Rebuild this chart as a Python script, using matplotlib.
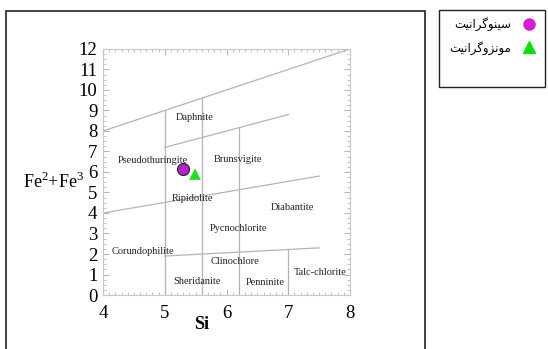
import matplotlib
matplotlib.use('Agg')
import matplotlib.pyplot as plt
from matplotlib.patches import Rectangle
from matplotlib.lines import Line2D

plt.rcParams['font.family'] = ['Liberation Serif', 'DejaVu Serif']
plt.rcParams['mathtext.fontset'] = 'custom'
plt.rcParams['mathtext.rm'] = 'Liberation Serif'

# field boundaries (Si, Fe2+Fe3)
boundaries = [
    ([4, 8], [8, 12]),
    ([5, 7], [7.2, 8.8]),
    ([4, 7.5], [4, 5.8]),
    ([5, 7.5], [1.9, 2.3]),
    ([5, 5], [0, 9]),
    ([5.6, 5.6], [0, 9.6]),
    ([6.2, 6.2], [0, 8.16]),
    ([7, 7], [0, 2.22]),
]

field_names = ['Daphnite', 'Pseudothuringite', 'Brunsvigite', 'Ripidolite',
               'Diabantite', 'Pycnochlorite', 'Corundophilite', 'Clinochlore',
               'Talc-chlorite', 'Sheridanite', 'Penninite']
field_x = [5.49, 4.8, 6.18, 5.45, 7.07, 6.19, 4.64, 6.14, 7.52, 5.53, 6.63]
field_y = [8.67, 6.54, 6.63, 4.73, 4.28, 3.22, 2.11, 1.62, 1.12, 0.65, 0.62]

# samples
syeno_si, syeno_fe = [5.29], [6.15]
monzo_si, monzo_fe = [5.49], [5.9]

# Persian legend labels (pre-shaped presentation forms, visual order)
syeno_label = '\ufe96\ufbff\ufee7\ufe8d\ufeae\ufb94\ufeee\ufee8\ufbff\ufeb3'
monzo_label = '\ufe96\ufbff\ufee7\ufe8d\ufeae\ufb94\ufeed\ufeb0\ufee7\ufeee\ufee3'

fig = plt.figure(figsize=(5.48, 3.49), dpi=100)
ax = fig.add_axes([0.188, 0.1547, 0.4507, 0.705])

for xs, ys in boundaries:
    ax.plot(xs, ys, color='#b4b4b4', lw=0.9)

for name, x, y in zip(field_names, field_x, field_y):
    ax.text(x, y, name, fontsize=7.5, ha='center', va='center', color='#222222')

ax.scatter(syeno_si, syeno_fe, s=75, marker='o', color='#b024c8',
           edgecolor='#222222', linewidth=0.8, zorder=5)
ax.scatter(monzo_si, monzo_fe, s=70, marker='^', color='#22dd22',
           edgecolor='none', zorder=5)

ax.set_xlim(4, 8)
ax.set_ylim(0, 12)
ax.set_xticks([4, 5, 6, 7, 8])
ax.set_yticks(range(0, 13))
ax.set_xticks([4 + 0.1 * i for i in range(41)], minor=True)
ax.set_yticks([0.25 * i for i in range(49)], minor=True)
ax.tick_params(which='both', direction='in', top=True, right=True,
               color='#b8b8b8', labelsize=13.5)
ax.tick_params(axis='x', pad=7)
ax.tick_params(axis='y', pad=4)
ax.tick_params(which='major', length=4)
ax.tick_params(which='minor', length=2.5)
for s in ax.spines.values():
    s.set_color('#c8c8c8')
    s.set_linewidth(0.8)

ax.set_xlabel('Si', fontsize=13, fontweight='bold')
ax.xaxis.set_label_coords(0.4, -0.085)
ax.set_ylabel('Fe$^2$+Fe$^3$', fontsize=13, rotation=0, ha='center',
              va='center')
ax.yaxis.set_label_coords(-0.2, 0.46)

# outer frame of the diagram panel
fig.patches.append(Rectangle((6 / 548, -0.05), (425 - 6) / 548, 1.05 - 11 / 349,
                             transform=fig.transFigure, fill=False,
                             edgecolor='#222222', lw=1.2, clip_on=False))

# legend box
fig.patches.append(Rectangle((439 / 548, 1 - 87 / 349), (545 - 439) / 548,
                             (87 - 10) / 349, transform=fig.transFigure,
                             fill=False, edgecolor='#222222', lw=1.0))
handles = [
    Line2D([], [], marker='o', ls='none', markersize=8, color='#d41fd4'),
    Line2D([], [], marker='^', ls='none', markersize=9, color='#11dd11'),
]
fig.legend(handles, [syeno_label, monzo_label], loc='upper right',
           bbox_to_anchor=(548 / 548, 1 - 7 / 349), frameon=False,
           markerfirst=False, handletextpad=0.7, labelspacing=0.8,
           handlelength=1.5, prop={'family': ['DejaVu Sans'], 'size': 8.5})

fig.savefig('out.png', dpi=100)
